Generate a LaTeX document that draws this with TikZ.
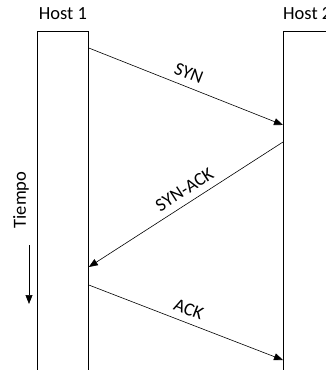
\documentclass[tikz,border=0pt]{standalone}
\usepackage{fontspec}
\setmainfont{Carlito}
\usetikzlibrary{arrows.meta,positioning,calc}
\tikzset{
  hostbox/.style={draw, thick, fill=white, minimum width=51pt, minimum height=350pt, anchor=north west, inner sep=0pt},
  hostname/.style={anchor=south, inner sep=0pt, font=\fontsize{18.5pt}{22pt}\selectfont},
  message/.style={-{Triangle[length=9pt,width=7pt]}, semithick},
  msglabel/.style={sloped, above=7pt, inner sep=0pt, font=\fontsize{18.5pt}{22pt}\selectfont},
}
\begin{document}
\begin{tikzpicture}[x=1pt,y=1pt]
  \clip (0,0) rectangle (326,-370);
  % Hosts
  \node[hostbox] (h1) at (37,-31) {};
  \node[hostbox] (h2) at (283,-31) {};
  \node[hostname] (h1name) at ([yshift=11pt]h1.north) {Host 1};
  \node[hostname, anchor=south west] (h2name) at ([yshift=11pt]h2.north west) {Host 2};
  % Handshake messages
  \draw[message] ([yshift=-17pt]h1.north east) -- node[msglabel, pos=0.49]{SYN} ([yshift=-94pt]h2.north west);
  \draw[message] ([yshift=-111pt]h2.north west) -- node[msglabel, pos=0.47]{SYN-ACK} ([yshift=-236pt]h1.north east);
  \draw[message] ([yshift=-254pt]h1.north east) -- node[msglabel, pos=0.49]{ACK} ([yshift=-329pt]h2.north west);
  % Time axis
  \coordinate (t0) at (29,-245);
  \coordinate (t1) at (29,-304);
  \draw[message] (t0) -- (t1);
  \node[rotate=90, inner sep=0pt, font=\fontsize{18.5pt}{22pt}\selectfont] (tiempo) at (21,-200) {Tiempo};
\end{tikzpicture}
\end{document}
